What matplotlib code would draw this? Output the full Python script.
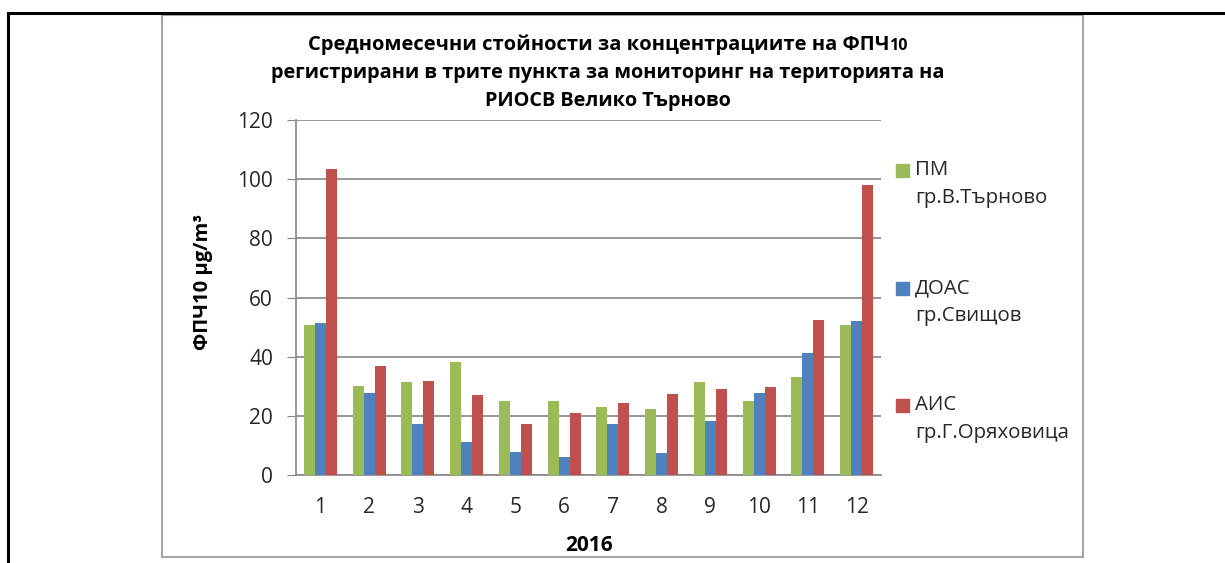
import numpy as np
import matplotlib.pyplot as plt
from matplotlib.lines import Line2D
from matplotlib.patches import Rectangle

plt.rcParams['font.family'] = ['Open Sans', 'DejaVu Sans']

months = ['1', '2', '3', '4', '5', '6', '7', '8', '9', '10', '11', '12']
pm_vtarnovo = [50.7, 30.1, 31.5, 38.1, 25.0, 25.0, 23.1, 22.2, 31.4, 25.0, 33.0, 50.7]
doas_svishtov = [51.5, 27.6, 17.4, 11.2, 7.8, 6.2, 17.4, 7.3, 18.1, 27.6, 41.1, 51.9]
ais_gorjahovica = [103.3, 37.0, 31.9, 26.9, 17.4, 20.8, 24.2, 27.3, 29.2, 29.6, 52.3, 97.9]
series_names = ['ПМ\nгр.В.Търново', 'ДОАС\nгр.Свищов', 'АИС\nгр.Г.Оряховица']
colors = ['#9BBB59', '#4F81BD', '#C0504D']

W, H = 1225, 563
fig = plt.figure(figsize=(W / 100, H / 100), dpi=100)

# ---- рамки (външна черна и сива рамка на диаграмата) ----
fig.add_artist(Line2D([8 / W, 1.0], [1 - 13 / H] * 2, color='black', lw=2.2))
fig.add_artist(Line2D([8 / W] * 2, [0, 1 - 13 / H], color='black', lw=2.2))
fig.add_artist(Rectangle((162 / W, 1 - 557 / H), (1083 - 162) / W, (557 - 15) / H,
                         fill=False, edgecolor='#a6a6a6', lw=1.5))

ax = fig.add_axes([296 / W, 1 - 475 / H, (881 - 296) / W, (475 - 120) / H])
x = np.arange(len(months))
bw = 0.226
for i, (vals, c, name) in enumerate(zip([pm_vtarnovo, doas_svishtov, ais_gorjahovica], colors, series_names)):
    ax.bar(x + (i - 1) * bw, vals, bw, color=c, label=name, zorder=3)

ax.set_xlim(-0.5, 11.5)
ax.set_ylim(0, 120)
ax.set_yticks(range(0, 121, 20))
ax.set_xticks(x, months)
ax.grid(axis='y', color='#868686', lw=1.2, zorder=0)
for s in ['top', 'right']:
    ax.spines[s].set_visible(False)
ax.spines['left'].set_color('#868686')
ax.spines['bottom'].set_color('#868686')
ax.spines['left'].set_linewidth(1.2)
ax.spines['bottom'].set_linewidth(1.2)
ax.tick_params(axis='y', length=6.5, color='#868686', labelsize=15, labelcolor='#262626', pad=10)
ax.tick_params(axis='x', length=0, labelsize=15, labelcolor='#262626', pad=16)

ax.set_xlabel('2016', fontsize=15, fontweight='bold', labelpad=12)
ax.set_ylabel('ФПЧ10 μg/m³', fontsize=14.5, fontweight='bold')
ax.yaxis.set_label_coords(-0.142, 0.544)

# ---- заглавие (три реда, "10" по-малко) ----
renderer = fig.canvas.get_renderer()
tcx = 608 / W
main1 = fig.text(0, 1 - 45 / H, 'Средномесечни стойности за концентрациите на ФПЧ',
                 fontsize=14.5, fontweight='bold', va='center', ha='left')
sub1 = fig.text(0, 1 - 46.5 / H, '10', fontsize=11.5, fontweight='bold', va='center', ha='left')
w1 = main1.get_window_extent(renderer).width
w2 = sub1.get_window_extent(renderer).width
x0 = tcx * W - (w1 + w2) / 2
main1.set_x(x0 / W)
sub1.set_x((x0 + w1) / W)
fig.text(tcx, 1 - 73 / H, 'регистрирани в трите пункта за мониторинг на територията на',
         fontsize=14.3, fontweight='bold', va='center', ha='center')
fig.text(tcx, 1 - 101 / H, 'РИОСВ Велико Търново',
         fontsize=14.3, fontweight='bold', va='center', ha='center')

# ---- легенда ----
for name, c, y in zip(series_names, colors, [170, 288, 405]):
    fig.add_artist(Rectangle((896 / W, 1 - (y + 6.5) / H), 13 / W, 13 / H, color=c))
    top, bottom = name.split('\n')
    fig.text(915 / W, 1 - y / H, top, fontsize=14.7, va='center', color='#262626')
    fig.text(915 / W, 1 - (y + 28) / H, bottom, fontsize=14.7, va='center', color='#262626')

fig.savefig('out.png', dpi=100)
